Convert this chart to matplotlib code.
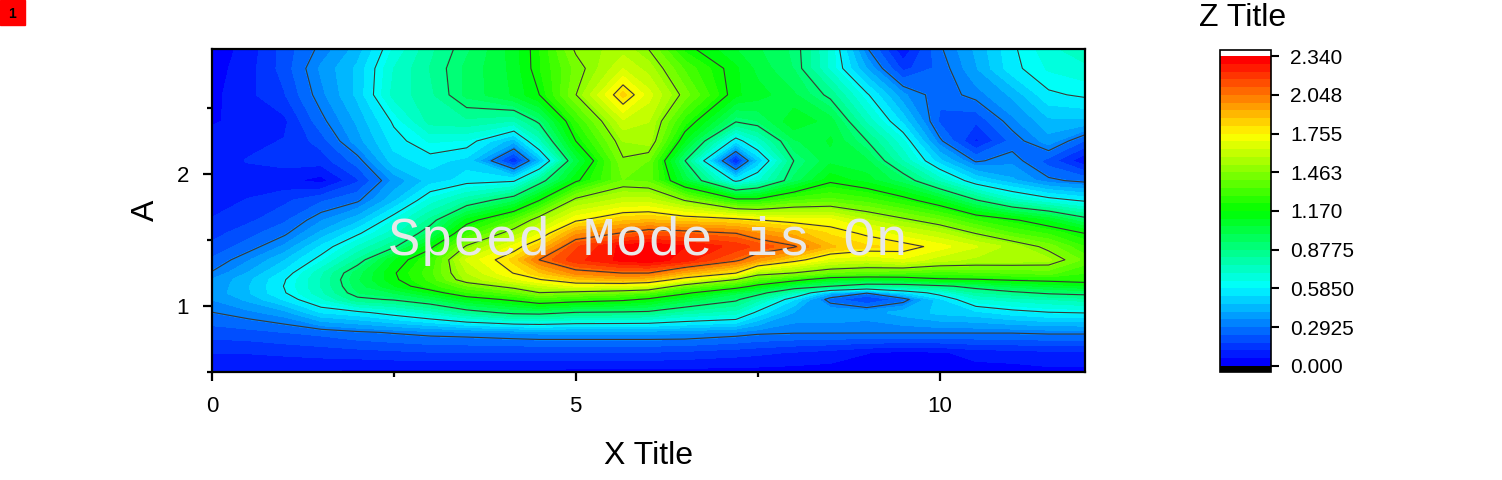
import numpy as np
import matplotlib
matplotlib.use("Agg")
import matplotlib.pyplot as plt
from matplotlib.colors import LinearSegmentedColormap
from matplotlib.patches import Rectangle
from matplotlib.ticker import MultipleLocator

plt.rcParams['font.family'] = ['Liberation Sans', 'DejaVu Sans']

# values
x_vals = [0, 0.5, 1, 1.5, 2, 2.5, 3, 3.5, 4.15, 4.5, 5, 5.65, 6, 6.5, 7.2, 7.5, 8, 8.5, 9, 9.5, 10, 10.5, 11, 11.5, 12]
y_vals = [0.5, 0.65, 0.8, 0.95, 1.05, 1.1, 1.15, 1.2, 1.25, 1.35, 1.45, 1.55, 1.65, 1.8, 1.95, 2.1, 2.25, 2.4, 2.6, 2.8, 2.95]

z050 = [.05, .05, .05, .05, .04, .04, .04, .04, .04, .04, .03, .03, .03, .03, .03, .03, .03, .03, .03, .02, .02, .03, .03, .04, .04]
z065 = [.12, .12, .13, .14, .15, .16, .17, .17, .17, .17, .17, .17, .17, .16, .14, .13, .11, .09, .06, .04, .05, .08, .09, .10, .10]
z080 = [.20, .21, .23, .25, .28, .30, .32, .33, .35, .36, .36, .36, .36, .36, .33, .31, .30, .30, .30, .30, .30, .30, .30, .31, .31]
z095 = [.29, .33, .38, .52, .56, .63, .71, .82, .91, .92, .87, .86, .85, .77, .72, .56, .40, .40, .38, .43, .48, .50, .55, .58, .59]
z105 = [.35, .42, .53, .68, .85, .89, .97, 1.10, 1.20, 1.28, 1.24, 1.20, 1.15, 1.03, .90, .78, .52, .25, .15, .25, .50, .68, .72, .75, .78]
z110 = [.37, .46, .58, .74, .93, .99, 1.11, 1.27, 1.36, 1.46, 1.42, 1.38, 1.33, 1.20, 1.00, .93, .73, .42, .30, .50, .63, .80, .85, .90, .92]
z115 = [.36, .46, .59, .76, .96, 1.10, 1.25, 1.38, 1.51, 1.60, 1.68, 1.65, 1.63, 1.39, 1.25, 1.13, .97, .88, .80, .80, .85, .92, 1.00, 1.05, 1.09]
z120 = [.35, .45, .58, .76, .98, 1.15, 1.30, 1.53, 1.67, 1.75, 1.84, 1.90, 1.86, 1.70, 1.46, 1.34, 1.22, 1.08, 1.05, 1.08, 1.15, 1.16, 1.19, 1.21, 1.23]
z125 = [.30, .41, .54, .74, .96, 1.16, 1.32, 1.57, 1.76, 1.85, 2.00, 2.05, 2.05, 1.90, 1.76, 1.52, 1.46, 1.38, 1.35, 1.33, 1.30, 1.32, 1.34, 1.36, 1.28]
z135 = [.24, .34, .46, .62, .82, 1.10, 1.28, 1.64, 1.83, 2.05, 2.20, 2.30, 2.32, 2.25, 2.08, 1.96, 1.80, 1.66, 1.63, 1.68, 1.60, 1.56, 1.55, 1.53, 1.38]
z145 = [.19, .26, .36, .53, .70, .86, 1.14, 1.48, 1.71, 1.85, 2.15, 2.30, 2.33, 2.28, 2.20, 2.14, 2.06, 1.88, 1.82, 1.80, 1.72, 1.64, 1.55, 1.43, 1.28]
z155 = [.15, .21, .28, .42, .57, .73, .95, 1.28, 1.53, 1.68, 1.96, 2.06, 2.12, 2.10, 2.05, 1.98, 1.90, 1.80, 1.74, 1.65, 1.58, 1.46, 1.34, 1.27, 1.17]
z165 = [.12, .16, .22, .34, .44, .64, .83, 1.12, 1.34, 1.53, 1.74, 1.85, 1.87, 1.83, 1.80, 1.76, 1.72, 1.71, 1.58, 1.49, 1.40, 1.27, 1.19, 1.09, .93]
z180 = [.09, .12, .16, .22, .28, .45, .66, .79, .96, 1.17, 1.50, 1.60, 1.60, 1.46, 1.22, 1.21, 1.33, 1.36, 1.31, 1.22, 1.09, .89, .72, .63, .57]
z195 = [.07, .08, .07, .03, .16, .36, .49, .55, .57, .82, 1.15, 1.40, 1.38, 1.03, .56, .68, .95, 1.15, 1.08, .95, .73, .52, .42, .31, .27]
z210 = [.09, .12, .14, .14, .26, .50, .55, .50, .10, .42, 1.00, 1.45, 1.40, .88, .08, .45, .88, 1.03, 1.00, .75, .48, .28, .33, .20, .06]
z225 = [.08, .10, .12, .20, .38, .55, .65, .63, .42, .72, 1.17, 1.52, 1.55, 1.10, .53, .70, .98, 1.06, .88, .65, .31, .10, .25, .38, .22]
z240 = [.05, .08, .10, .27, .42, .60, .78, .80, .75, .90, 1.27, 1.62, 1.58, 1.25, .89, .93, 1.10, 1.02, .74, .50, .22, .18, .33, .45, .45]
z260 = [.04, .10, .17, .33, .48, .72, .80, .95, 1.06, 1.17, 1.46, 1.83, 1.66, 1.43, 1.12, 1.08, 1.00, .85, .60, .36, .25, .32, .42, .57, .60]
z280 = [.03, .09, .20, .36, .48, .70, .82, .95, 1.07, 1.22, 1.42, 1.63, 1.55, 1.33, 1.12, 1.03, .93, .68, .40, .15, .25, .40, .56, .65, .68]
z295 = [.02, .08, .20, .31, .43, .65, .80, .92, 1.08, 1.22, 1.48, 1.55, 1.46, 1.20, 1.05, 1.00, .92, .68, .30, .06, .28, .42, .57, .68, .75]

z_rows = [z050, z065, z080, z095, z105, z110, z115, z120, z125, z135, z145, z155, z165,
          z180, z195, z210, z225, z240, z260, z280, z295]

cbar_ticks = [0, 0.2925, 0.585, 0.8775, 1.17, 1.463, 1.755, 2.048, 2.34]
cbar_labels = ['0.000', '0.2925', '0.5850', '0.8775', '1.170', '1.463', '1.755', '2.048', '2.340']
line_levels = [0.2925, 0.585, 0.8775, 1.17, 1.4625, 1.755, 2.048]

W, H = 1502, 480
fig = plt.figure(figsize=(W / 100, H / 100), dpi=100)
ax = fig.add_axes([212 / W, (H - 372) / H, (1085 - 212) / W, (372 - 49) / H])

cmap = LinearSegmentedColormap.from_list('rb', ['#0000ff', '#00ffff', '#00ff00', '#ffff00', '#ff0000'], N=40)
cmap.set_under('black')
cmap.set_over('white')

levels = np.linspace(0, 2.34, 41)
cf = ax.contourf(x_vals, y_vals, np.array(z_rows), levels=levels, cmap=cmap, extend='both')
cf.set_edgecolor('face')
ax.contour(x_vals, y_vals, np.array(z_rows), levels=line_levels, colors='#383838', linewidths=0.8)

ax.set_xlim(0, 12)
ax.set_ylim(0.5, 2.947)
ax.xaxis.set_major_locator(MultipleLocator(5))
ax.xaxis.set_minor_locator(MultipleLocator(2.5))
ax.yaxis.set_major_locator(MultipleLocator(1))
ax.yaxis.set_minor_locator(MultipleLocator(0.5))
ax.tick_params(which='major', length=6.5, width=1.6, labelsize=16)
ax.tick_params(which='minor', length=3.5, width=1.6)
ax.tick_params(axis='x', which='major', pad=11)
ax.tick_params(axis='y', which='major', pad=10)
for s in ax.spines.values():
    s.set_linewidth(1.6)
ax.set_xlabel('X Title', fontsize=23, labelpad=17)
ax.set_ylabel('A', fontsize=23, labelpad=11)

ax.text(2.42, 1.386, 'Speed Mode is On', color='#e8e8e8', fontsize=39, family='Liberation Mono',
        ha='left', va='baseline')

# colorbar
cax = fig.add_axes([1220 / W, (H - 372) / H, (1271 - 1220) / W, (372 - 50) / H])
cb = fig.colorbar(cf, cax=cax, extend='both', extendrect=True, extendfrac=0.02)
cb.set_ticks(cbar_ticks)
cb.set_ticklabels(cbar_labels)
cb.ax.minorticks_off()
cb.ax.tick_params(length=6, width=1.5, labelsize=15, pad=8)
cb.outline.set_linewidth(1.2)
fig.text(1199 / W, (H - 18) / H, 'Z Title', fontsize=23, ha='left', va='center')

# layer number box
fig.patches.append(Rectangle((0, (H - 25) / H), 25 / W, 25 / H, transform=fig.transFigure, color='#ff0000', figure=fig))
fig.text(12 / W, (H - 14) / H, '1', fontsize=10, ha='center', va='center', color='black', fontweight='bold')

fig.savefig('out.png', dpi=100)
